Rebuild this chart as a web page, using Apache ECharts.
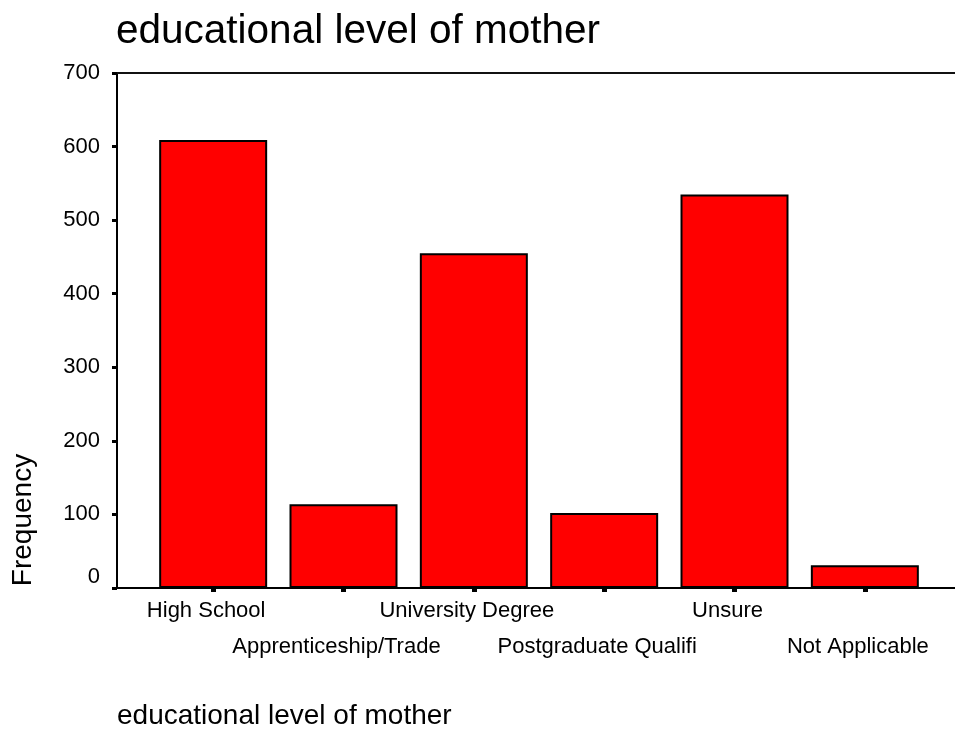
<!DOCTYPE html>
<html lang="en">

<head>
    <meta charset="UTF-8">
    <title>educational level of mother</title>
    <script src="https://cdn.jsdelivr.net/npm/echarts@6/dist/echarts.min.js"></script>
    <style>
        html, body {
            margin: 0;
            padding: 0;
            background: #fff;
        }

        #chart {
            width: 955px;
            height: 732px;
        }
    </style>
</head>

<body>
    <div id="chart"></div>

    <script>
        const categories = ['High School', 'Apprenticeship/Trade', 'University Degree', 'Postgraduate Qualifi', 'Unsure', 'Not Applicable'];
        const frequencies = [609, 114, 455, 102, 535, 31];
        const yTicks = [0, 100, 200, 300, 400, 500, 600, 700];

        const font = 'Arial, "Liberation Sans", sans-serif';
        const plotTop = 73;
        const plotBottom = 144;

        const chart = echarts.init(document.getElementById('chart'));

        const option = {
            animation: false,
            backgroundColor: '#fff',
            title: {
                text: 'educational level of mother',
                left: 111,
                top: 6,
                textStyle: { fontFamily: font, fontSize: 40.5, fontWeight: 'normal', color: '#000' }
            },
            graphic: [
                {
                    type: 'text',
                    left: 117,
                    top: 702,
                    style: { text: 'educational level of mother', font: '28px ' + font, fill: '#000' }
                },
                {
                    type: 'text',
                    x: 23,
                    y: 520,
                    rotation: Math.PI / 2,
                    style: {
                        text: 'Frequency', font: '28px ' + font, fill: '#000',
                        align: 'center', verticalAlign: 'middle'
                    }
                }
            ],
            grid: [
                // bars sit in a narrower band than the frame
                { left: 148, right: 25, top: plotTop, bottom: plotBottom },
                // frame: y axis, bottom and top lines
                { left: 117, right: 0, top: plotTop, bottom: plotBottom }
            ],
            xAxis: [
                {
                    type: 'category',
                    gridIndex: 0,
                    data: categories,
                    axisLine: { show: false },
                    axisTick: {
                        show: true,
                        alignWithLabel: true,
                        length: 4,
                        lineStyle: { color: '#000', width: 5 }
                    },
                    axisLabel: {
                        interval: 0,
                        hideOverlap: false,
                        margin: 5,
                        color: '#000',
                        fontFamily: font,
                        fontSize: 22,
                        lineHeight: 36,
                        padding: [0, 14, 0, 0],
                        formatter: (v, i) => (i % 2 ? '\n' + v : v)
                    }
                },
                {
                    type: 'value',
                    gridIndex: 1,
                    position: 'bottom',
                    axisLine: { show: true, onZero: false, lineStyle: { color: '#000', width: 2 } },
                    axisTick: { show: false },
                    axisLabel: { show: false },
                    splitLine: { show: false }
                },
                {
                    type: 'value',
                    gridIndex: 1,
                    position: 'top',
                    axisLine: { show: true, onZero: false, lineStyle: { color: '#111', width: 2 } },
                    axisTick: { show: false },
                    axisLabel: { show: false },
                    splitLine: { show: false }
                }
            ],
            yAxis: [
                {
                    type: 'value',
                    gridIndex: 0,
                    min: yTicks[0],
                    max: yTicks[yTicks.length - 1],
                    show: false
                },
                {
                    type: 'value',
                    gridIndex: 1,
                    min: yTicks[0],
                    max: yTicks[yTicks.length - 1],
                    interval: yTicks[1] - yTicks[0],
                    axisLine: { show: true, onZero: false, lineStyle: { color: '#000', width: 2 } },
                    axisTick: { show: true, length: 5, lineStyle: { color: '#000', width: 3 } },
                    splitLine: { show: false },
                    axisLabel: {
                        margin: 17,
                        color: '#000',
                        fontFamily: font,
                        fontSize: 22,
                        formatter: v => (v === 0 ? '{z|0}' : String(v)),
                        rich: {
                            z: { fontFamily: font, fontSize: 22, color: '#000', padding: [0, 0, 22, 0] }
                        }
                    }
                }
            ],
            series: [{
                type: 'bar',
                xAxisIndex: 0,
                yAxisIndex: 0,
                data: frequencies,
                barWidth: 108,
                itemStyle: {
                    color: '#ff0000',
                    borderColor: '#000',
                    borderWidth: 2
                }
            }]
        };

        chart.setOption(option);
    </script>
</body>

</html>
